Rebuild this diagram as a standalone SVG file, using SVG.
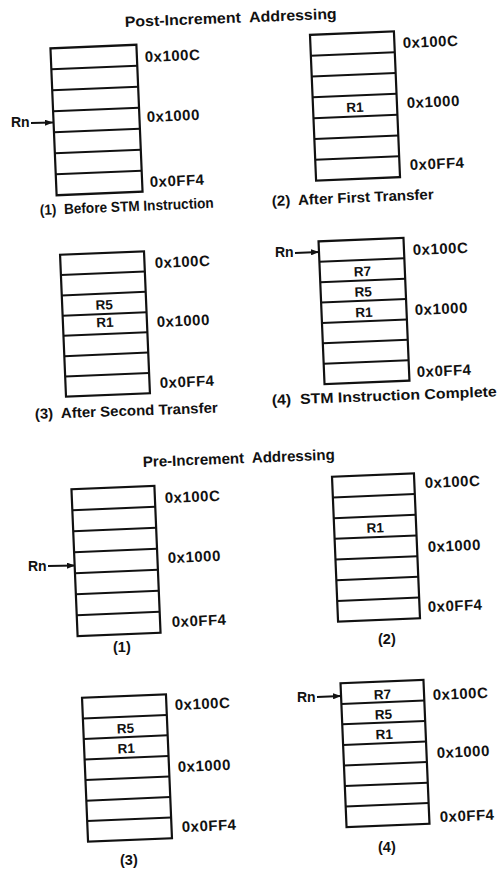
<svg xmlns="http://www.w3.org/2000/svg" width="500" height="870" viewBox="0 0 500 870">
<defs>
<style>
text{font-family:"Liberation Sans",Arial,Helvetica,sans-serif;font-weight:bold;fill:#111}
.box rect{fill:#fff;stroke:#111;stroke-width:2.2}
.box line{stroke:#111;stroke-width:2}
.addr{font-size:15px;letter-spacing:0.5px}
.reg{font-size:13.5px;text-anchor:middle}
.cap{font-size:14.5px}
.title{font-size:15px}
.rn{font-size:14px}
.conn line{stroke:#111;stroke-width:1.8;marker-end:url(#ah)}
</style>
<marker id="ah" viewBox="0 0 8 6" refX="8" refY="3" markerWidth="8" markerHeight="6" markerUnits="userSpaceOnUse" orient="auto">
<path d="M0,0 L8,3 L0,6 z" fill="#111"/>
</marker>
</defs>
<rect width="500" height="870" fill="#fff"/>

<text id="title-post" class="title" xml:space="preserve" x="125" y="27" textLength="212" lengthAdjust="spacingAndGlyphs" transform="rotate(-2.2 125 27)">Post-Increment  Addressing</text>
<text id="title-pre" class="title" xml:space="preserve" x="143" y="467" textLength="192" lengthAdjust="spacingAndGlyphs" transform="rotate(-2.2 143 467)">Pre-Increment  Addressing</text>

<!-- Post (1) -->
<g id="post-1">
<g class="box" transform="rotate(-2.4 96.5 120)">
<rect x="53.5" y="46.5" width="86" height="147"/>
<line x1="53.5" y1="67.5" x2="139.5" y2="67.5"/><line x1="53.5" y1="88.5" x2="139.5" y2="88.5"/><line x1="53.5" y1="109.5" x2="139.5" y2="109.5"/><line x1="53.5" y1="130.5" x2="139.5" y2="130.5"/><line x1="53.5" y1="151.5" x2="139.5" y2="151.5"/><line x1="53.5" y1="172.5" x2="139.5" y2="172.5"/>
</g>
<text class="addr" x="145" y="62" transform="rotate(-2.4 145 62)">0x100C</text>
<text class="addr" x="147" y="122" transform="rotate(-2.4 147 122)">0x1000</text>
<text class="addr" x="150" y="187" transform="rotate(-2.4 150 187)">0x0FF4</text>
<text class="rn" x="11" y="127">Rn</text>
<text class="cap" xml:space="preserve" x="40" y="215" textLength="174" lengthAdjust="spacingAndGlyphs" transform="rotate(-2.4 40 215)">(1)  Before STM Instruction</text>
</g>

<!-- Post (2) -->
<g id="post-2">
<g class="box" transform="rotate(-2.4 355 106)">
<rect x="313" y="33" width="84" height="146"/>
<line x1="313" y1="53.9" x2="397" y2="53.9"/><line x1="313" y1="74.7" x2="397" y2="74.7"/><line x1="313" y1="95.6" x2="397" y2="95.6"/><line x1="313" y1="116.4" x2="397" y2="116.4"/><line x1="313" y1="137.3" x2="397" y2="137.3"/><line x1="313" y1="158.1" x2="397" y2="158.1"/>
<text class="reg" x="355" y="112">R1</text>
</g>
<text class="addr" x="403" y="48" transform="rotate(-2.4 403 48)">0x100C</text>
<text class="addr" x="407" y="108" transform="rotate(-2.4 407 108)">0x1000</text>
<text class="addr" x="410" y="170" transform="rotate(-2.4 410 170)">0x0FF4</text>
<text class="cap" xml:space="preserve" x="272" y="206" textLength="162" lengthAdjust="spacingAndGlyphs" transform="rotate(-2.4 272 206)">(2)  After First Transfer</text>
</g>

<!-- Post (3) -->
<g id="post-3">
<g class="box" transform="rotate(-2.4 105 324)">
<rect x="63" y="253" width="84" height="142"/>
<line x1="63" y1="273.3" x2="147" y2="273.3"/><line x1="63" y1="293.6" x2="147" y2="293.6"/><line x1="63" y1="313.9" x2="147" y2="313.9"/><line x1="63" y1="334.1" x2="147" y2="334.1"/><line x1="63" y1="354.4" x2="147" y2="354.4"/><line x1="63" y1="374.7" x2="147" y2="374.7"/>
<text class="reg" x="105" y="309.5">R5</text>
<text class="reg" x="105" y="327">R1</text>
</g>
<text class="addr" x="155" y="268" transform="rotate(-2.4 155 268)">0x100C</text>
<text class="addr" x="157" y="327" transform="rotate(-2.4 157 327)">0x1000</text>
<text class="addr" x="160" y="388" transform="rotate(-2.4 160 388)">0x0FF4</text>
<text class="cap" xml:space="preserve" x="35" y="419" textLength="183" lengthAdjust="spacingAndGlyphs" transform="rotate(-2 35 419)">(3)  After Second Transfer</text>
</g>

<!-- Post (4) -->
<g id="post-4">
<g class="box" transform="rotate(-2.4 364 311)">
<rect x="321.5" y="239.5" width="85" height="143"/>
<line x1="321.5" y1="259.9" x2="406.5" y2="259.9"/><line x1="321.5" y1="280.4" x2="406.5" y2="280.4"/><line x1="321.5" y1="300.8" x2="406.5" y2="300.8"/><line x1="321.5" y1="321.2" x2="406.5" y2="321.2"/><line x1="321.5" y1="341.6" x2="406.5" y2="341.6"/><line x1="321.5" y1="362.1" x2="406.5" y2="362.1"/>
<text class="reg" x="364" y="276">R7</text>
<text class="reg" x="364" y="296.5">R5</text>
<text class="reg" x="364" y="317">R1</text>
</g>
<text class="addr" x="413" y="255" transform="rotate(-2.4 413 255)">0x100C</text>
<text class="addr" x="415" y="315" transform="rotate(-2.4 415 315)">0x1000</text>
<text class="addr" x="417" y="377" transform="rotate(-2.4 417 377)">0x0FF4</text>
<text class="rn" x="275" y="257">Rn</text>
<text class="cap" xml:space="preserve" x="272" y="405" textLength="225" lengthAdjust="spacingAndGlyphs" transform="rotate(-2.2 272 405)">(4)  STM Instruction Complete</text>
</g>

<!-- Pre (1) -->
<g id="pre-1">
<g class="box" transform="rotate(-2.4 116 561)">
<rect x="74.5" y="487.5" width="83" height="147"/>
<line x1="74.5" y1="508.5" x2="157.5" y2="508.5"/><line x1="74.5" y1="529.5" x2="157.5" y2="529.5"/><line x1="74.5" y1="550.5" x2="157.5" y2="550.5"/><line x1="74.5" y1="571.5" x2="157.5" y2="571.5"/><line x1="74.5" y1="592.5" x2="157.5" y2="592.5"/><line x1="74.5" y1="613.5" x2="157.5" y2="613.5"/>
</g>
<text class="addr" x="165" y="503" transform="rotate(-2.4 165 503)">0x100C</text>
<text class="addr" x="168" y="563" transform="rotate(-2.4 168 563)">0x1000</text>
<text class="addr" x="172" y="627" transform="rotate(-2.4 172 627)">0x0FF4</text>
<text class="rn" x="28" y="571">Rn</text>
<text class="cap" x="113" y="652">(1)</text>
</g>

<!-- Pre (2) -->
<g id="pre-2">
<g class="box" transform="rotate(-2.4 376 547.5)">
<rect x="335" y="475" width="82" height="145"/>
<line x1="335" y1="495.7" x2="417" y2="495.7"/><line x1="335" y1="516.4" x2="417" y2="516.4"/><line x1="335" y1="537.1" x2="417" y2="537.1"/><line x1="335" y1="557.9" x2="417" y2="557.9"/><line x1="335" y1="578.6" x2="417" y2="578.6"/><line x1="335" y1="599.3" x2="417" y2="599.3"/>
<text class="reg" x="376" y="532.5">R1</text>
</g>
<text class="addr" x="425" y="488" transform="rotate(-2.4 425 488)">0x100C</text>
<text class="addr" x="428" y="552" transform="rotate(-2.4 428 552)">0x1000</text>
<text class="addr" x="428" y="612" transform="rotate(-2.4 428 612)">0x0FF4</text>
<text class="cap" x="378" y="644">(2)</text>
</g>

<!-- Pre (3) -->
<g id="pre-3">
<g class="box" transform="rotate(-2.4 127 768)">
<rect x="85" y="696" width="84" height="144"/>
<line x1="85" y1="716.6" x2="169" y2="716.6"/><line x1="85" y1="737.1" x2="169" y2="737.1"/><line x1="85" y1="757.7" x2="169" y2="757.7"/><line x1="85" y1="778.3" x2="169" y2="778.3"/><line x1="85" y1="798.9" x2="169" y2="798.9"/><line x1="85" y1="819.4" x2="169" y2="819.4"/>
<text class="reg" x="127" y="733">R5</text>
<text class="reg" x="127" y="753">R1</text>
</g>
<text class="addr" x="175" y="710" transform="rotate(-2.4 175 710)">0x100C</text>
<text class="addr" x="178" y="772" transform="rotate(-2.4 178 772)">0x1000</text>
<text class="addr" x="182" y="832" transform="rotate(-2.4 182 832)">0x0FF4</text>
<text class="cap" x="120" y="865">(3)</text>
</g>

<!-- Pre (4) -->
<g id="pre-4">
<g class="box" transform="rotate(-2.4 385 753.5)">
<rect x="343.5" y="681.5" width="83" height="144"/>
<line x1="343.5" y1="702.1" x2="426.5" y2="702.1"/><line x1="343.5" y1="722.6" x2="426.5" y2="722.6"/><line x1="343.5" y1="743.2" x2="426.5" y2="743.2"/><line x1="343.5" y1="763.8" x2="426.5" y2="763.8"/><line x1="343.5" y1="784.4" x2="426.5" y2="784.4"/><line x1="343.5" y1="804.9" x2="426.5" y2="804.9"/>
<text class="reg" x="385" y="699">R7</text>
<text class="reg" x="385" y="719">R5</text>
<text class="reg" x="385" y="739">R1</text>
</g>
<text class="addr" x="433" y="700" transform="rotate(-2.4 433 700)">0x100C</text>
<text class="addr" x="437" y="758" transform="rotate(-2.4 437 758)">0x1000</text>
<text class="addr" x="440" y="822" transform="rotate(-2.4 440 822)">0x0FF4</text>
<text class="rn" x="297" y="702">Rn</text>
<text class="cap" x="378" y="852">(4)</text>
</g>

<g id="connectors" class="conn">
<line x1="31" y1="123" x2="53" y2="122.5"/>
<line x1="295" y1="253" x2="319" y2="252"/>
<line x1="48" y1="566" x2="75" y2="565.5"/>
<line x1="317" y1="697" x2="341" y2="696"/>
</g>
</svg>
